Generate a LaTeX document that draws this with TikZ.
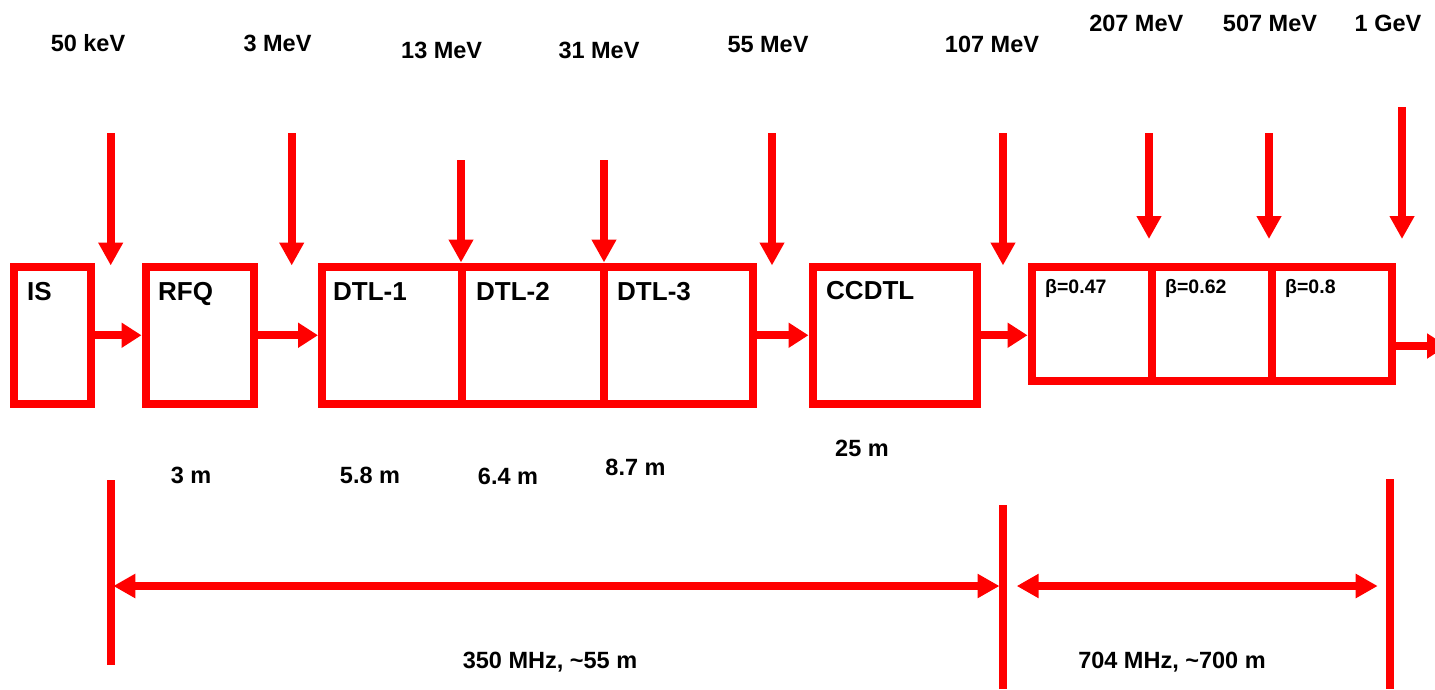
\documentclass[tikz,border=0pt]{standalone}
\usepackage{fontspec}
\setmainfont{Liberation Sans}
\usetikzlibrary{arrows.meta}
\definecolor{lred}{RGB}{255,0,0}
\begin{document}
\begin{tikzpicture}[x=1pt,y=-1pt,
  box/.style={draw=lred,line width=8pt,rectangle,inner sep=0pt,outer sep=4pt},
  bigtxt/.style={inner sep=0pt,anchor=base west,font=\bfseries\fontsize{26}{30}\selectfont},
  betatxt/.style={inner sep=0pt,anchor=base west,font=\bfseries\fontsize{19.5}{23}\selectfont},
  lbl/.style={inner sep=0pt,anchor=base,font=\bfseries\fontsize{23.5}{28}\selectfont},
  varrow/.style={draw=lred,line width=8pt,-{Triangle[length=23pt,width=23.5pt]}},
  harrow/.style={draw=lred,line width=8pt,-{Triangle[length=20pt,width=24pt]}},
  dimarrow/.style={draw=lred,line width=8pt,{Triangle[length=22pt,width=23pt]}-{Triangle[length=22pt,width=23pt]}},
  vline/.style={draw=lred,line width=8pt}]
\clip (0,0) rectangle (1435,689);
\fill[white] (0,0) rectangle (1435,689);
% boxes
\node[box,minimum width=76.5pt,minimum height=137.5pt] (is) at (52.25,335.25) {};
\node[box,minimum width=108.5pt,minimum height=137.5pt] (rfq) at (199.75,335.25) {};
\node[box,minimum width=140pt,minimum height=137.5pt] (d1) at (392,335.25) {};
\node[box,minimum width=142pt,minimum height=137.5pt] (d2) at (533,335.25) {};
\node[box,minimum width=149pt,minimum height=137.5pt] (d3) at (678.5,335.25) {};
\node[box,minimum width=164.2pt,minimum height=137.5pt] (cc) at (894.6,335.25) {};
\node[box,minimum width=120.5pt,minimum height=114.5pt] (b1) at (1091.75,323.75) {};
\node[box,minimum width=120pt,minimum height=114.5pt] (b2) at (1212,323.75) {};
\node[box,minimum width=120pt,minimum height=114.5pt] (b3) at (1332,323.75) {};
% box labels
\node[bigtxt] (tis) at (27,300) {IS};
\node[bigtxt] (trfq) at (158,300) {RFQ};
\node[bigtxt] (td1) at (333,300) {DTL-1};
\node[bigtxt] (td2) at (476,300) {DTL-2};
\node[bigtxt] (td3) at (617,300) {DTL-3};
\node[bigtxt] (tcc) at (826,299) {CCDTL};
\node[betatxt] (tb1) at (1045,293.3) {β=0.47};
\node[betatxt] (tb2) at (1165,293.3) {β=0.62};
\node[betatxt] (tb3) at (1285,293.3) {β=0.8};
% beam arrows between boxes
\draw[harrow] (is.east) -- (rfq.west);
\draw[harrow] (rfq.east) -- (d1.west);
\draw[harrow] (d3.east) -- (cc.west);
\draw[harrow] (cc.east) -- (cc.east -| b1.west);
\coordinate (outend) at (1447,346);
\draw[harrow] (b3.east |- outend) -- (outend);
% energy labels
\node[lbl] (e1) at (88,51.7) {50 keV};
\node[lbl] (e2) at (277.5,51.7) {3 MeV};
\node[lbl] (e3) at (441.7,58.3) {13 MeV};
\node[lbl] (e4) at (599,58.3) {31 MeV};
\node[lbl] (e5) at (768,52) {55 MeV};
\node[lbl] (e6) at (992,52) {107 MeV};
\node[lbl] (e7) at (1136.3,31.7) {207 MeV};
\node[lbl] (e8) at (1270,31.7) {507 MeV};
\node[lbl] (e9) at (1388,31.7) {1 GeV};
% energy arrows
\coordinate (v1s) at (110.7,133); \coordinate (v1e) at (110.7,265.5);
\coordinate (v2s) at (291.7,133); \coordinate (v2e) at (291.7,265.5);
\coordinate (v3s) at (461,160);
\coordinate (v4s) at (604,160);
\coordinate (v5s) at (772,133); \coordinate (v5e) at (772,265.5);
\coordinate (v6s) at (1003,133); \coordinate (v6e) at (1003,265.5);
\coordinate (v7s) at (1149,133); \coordinate (v7e) at (1149,239);
\coordinate (v8s) at (1269,133); \coordinate (v8e) at (1269,239);
\coordinate (v9s) at (1402,107); \coordinate (v9e) at (1402,239);
\draw[varrow] (v1s) -- (v1e);
\draw[varrow] (v2s) -- (v2e);
\draw[varrow] (v3s) -- (v3s |- d1.north);
\draw[varrow] (v4s) -- (v4s |- d2.north);
\draw[varrow] (v5s) -- (v5e);
\draw[varrow] (v6s) -- (v6e);
\draw[varrow] (v7s) -- (v7e);
\draw[varrow] (v8s) -- (v8e);
\draw[varrow] (v9s) -- (v9e);
% length labels
\node[lbl] (l1) at (191,483.3) {3 m};
\node[lbl] (l2) at (370,483.3) {5.8 m};
\node[lbl] (l3) at (508,484.5) {6.4 m};
\node[lbl] (l4) at (635.5,475.7) {8.7 m};
\node[lbl] (l5) at (862,456) {25 m};
% bottom section lines
\coordinate (k1t) at (110.7,480); \coordinate (k1b) at (110.7,665);
\coordinate (k2t) at (1003,505); \coordinate (k2b) at (1003,689);
\coordinate (k3t) at (1390,479); \coordinate (k3b) at (1390,689);
\draw[vline] (k1t) -- (k1b);
\draw[vline] (k2t) -- (k2b);
\draw[vline] (k3t) -- (k3b);
\coordinate (da1) at (113.3,586); \coordinate (da2) at (999.5,586);
\coordinate (db1) at (1016.7,586); \coordinate (db2) at (1377.7,586);
\draw[dimarrow] (da1) -- (da2);
\draw[dimarrow] (db1) -- (db2);
\node[lbl] (f1) at (550,668) {350 MHz, \textasciitilde55 m};
\node[lbl] (f2) at (1172,668.3) {704 MHz, \textasciitilde700 m};
\end{tikzpicture}
\end{document}
